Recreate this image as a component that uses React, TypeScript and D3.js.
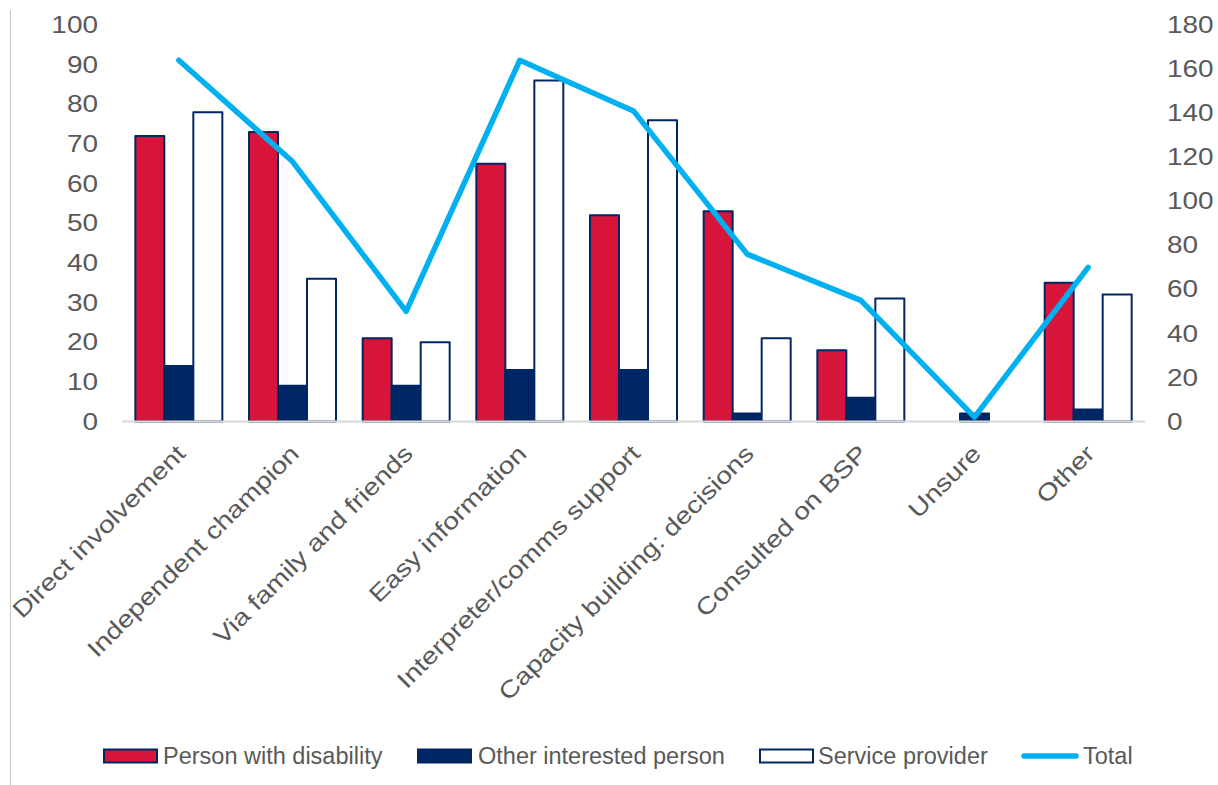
import { useEffect, useRef } from "react";
import * as d3 from "d3";

// 回答の内訳 (左軸) と合計 (右軸)
const CATEGORIES = [
  "Direct involvement",
  "Independent champion",
  "Via family and friends",
  "Easy information",
  "Interpreter/comms support",
  "Capacity building: decisions",
  "Consulted on BSP",
  "Unsure",
  "Other",
];
const SERIES = ["Person with disability", "Other interested person", "Service provider"];
const PERSON_WITH_DISABILITY = [72, 73, 21, 65, 52, 53, 18, 0, 35];
const OTHER_INTERESTED = [14, 9, 9, 13, 13, 2, 6, 2, 3];
const SERVICE_PROVIDER = [78, 36, 20, 86, 76, 21, 31, 0, 32];
const TOTAL = [164, 118, 50, 164, 141, 76, 55, 2, 70];
const LEFT_TICKS = [0, 10, 20, 30, 40, 50, 60, 70, 80, 90, 100];
const RIGHT_TICKS = [0, 20, 40, 60, 80, 100, 120, 140, 160, 180];

const W = 1218;
const H = 785;
const PLOT_L = 122;
const PLOT_R = 1145;
const PLOT_T = 25;
const PLOT_B = 421.5;

const RED = "#D7153A";
const NAVY = "#002664";
const CYAN = "#00B0F0";
const TEXT = "#595959";
const FONT = "'Liberation Sans', Arial, sans-serif";
const STRETCH = 1.2;

export default function App() {
  const svgRef = useRef<SVGSVGElement>(null);

  useEffect(() => {
    if (!svgRef.current) return;
    const svg = d3.select(svgRef.current);
    svg.selectAll("*").remove();

    const x = d3.scaleBand<string>().domain(CATEGORIES).range([PLOT_L, PLOT_R])
      .paddingInner(0.2346).paddingOuter(0.1173);
    const xs = d3.scaleBand<string>().domain(SERIES).range([0, x.bandwidth()]);
    const yL = d3.scaleLinear().domain([0, 100]).range([PLOT_B, PLOT_T]);
    const yR = d3.scaleLinear().domain([0, 180]).range([PLOT_B, PLOT_T]);

    // 左枠線
    svg.append("line")
      .attr("x1", 10.5).attr("x2", 10.5).attr("y1", 10).attr("y2", H)
      .attr("stroke", "#c8c8c8").attr("stroke-width", 1);

    // 軸ラベル
    LEFT_TICKS.forEach((t) => {
      svg.append("text")
        .attr("transform", `translate(98,${yL(t)}) scale(${STRETCH},1)`)
        .attr("dy", "0.35em").attr("text-anchor", "end")
        .attr("fill", TEXT).attr("font-size", "23.3px").attr("font-family", FONT)
        .text(t);
    });
    RIGHT_TICKS.forEach((t) => {
      svg.append("text")
        .attr("transform", `translate(1167,${yR(t)}) scale(${STRETCH},1)`)
        .attr("dy", "0.35em").attr("text-anchor", "start")
        .attr("fill", TEXT).attr("font-size", "23.3px").attr("font-family", FONT)
        .text(t);
    });

    // 棒
    const seriesData = [PERSON_WITH_DISABILITY, OTHER_INTERESTED, SERVICE_PROVIDER];
    const fills = [RED, NAVY, "#ffffff"];
    CATEGORIES.forEach((c, i) => {
      SERIES.forEach((s, j) => {
        const v = seriesData[j][i];
        if (!v) return;
        svg.append("rect")
          .attr("x", (x(c) ?? 0) + (xs(s) ?? 0))
          .attr("y", yL(v))
          .attr("width", xs.bandwidth())
          .attr("height", yL(0) - yL(v))
          .attr("fill", fills[j])
          .attr("stroke", NAVY).attr("stroke-width", 2)
          .attr("stroke-linejoin", "round");
      });
    });

    // ゼロ線
    svg.append("line")
      .attr("x1", PLOT_L).attr("x2", PLOT_R).attr("y1", PLOT_B).attr("y2", PLOT_B)
      .attr("stroke", "#d9d9d9").attr("stroke-width", 2);

    // 合計ライン
    const line = d3.line<number>()
      .x((_, i) => (x(CATEGORIES[i]) ?? 0) + x.bandwidth() / 2)
      .y((d) => yR(d));
    svg.append("path")
      .attr("d", line(TOTAL) as string)
      .attr("fill", "none").attr("stroke", CYAN).attr("stroke-width", 5.5)
      .attr("stroke-linejoin", "round").attr("stroke-linecap", "round");

    // カテゴリラベル (斜め)
    CATEGORIES.forEach((c) => {
      const cx = (x(c) ?? 0) + x.bandwidth() / 2;
      svg.append("text")
        .attr("transform", `translate(${cx + 8},455) rotate(-45) scale(${STRETCH},1)`)
        .attr("text-anchor", "end")
        .attr("fill", TEXT).attr("font-size", "23.6px").attr("font-family", FONT)
        .text(c);
    });

    // 凡例
    const legendY = 756;
    const items = [
      { label: SERIES[0], sx: 104, tx: 163, kind: "bar", fill: RED },
      { label: SERIES[1], sx: 418, tx: 478, kind: "bar", fill: NAVY },
      { label: SERIES[2], sx: 760, tx: 818, kind: "bar", fill: "#ffffff" },
      { label: "Total", sx: 1022, tx: 1083, kind: "line", fill: CYAN },
    ];
    items.forEach((it) => {
      if (it.kind === "bar") {
        svg.append("rect")
          .attr("x", it.sx).attr("y", legendY - 6.5).attr("width", 53).attr("height", 13)
          .attr("fill", it.fill).attr("stroke", NAVY).attr("stroke-width", 2);
      } else {
        svg.append("line")
          .attr("x1", it.sx + 2).attr("x2", it.sx + 54).attr("y1", legendY).attr("y2", legendY)
          .attr("stroke", it.fill).attr("stroke-width", 5.5).attr("stroke-linecap", "round");
      }
      svg.append("text")
        .attr("x", it.tx).attr("y", legendY).attr("dy", "0.35em")
        .attr("fill", TEXT).attr("font-size", "23.5px").attr("font-family", FONT)
        .text(it.label);
    });
  }, []);

  return (
    <svg
      ref={svgRef}
      width={W}
      height={H}
      viewBox={`0 0 ${W} ${H}`}
      style={{ position: "absolute", left: 0, top: 0, background: "#ffffff" }}
    />
  );
}
